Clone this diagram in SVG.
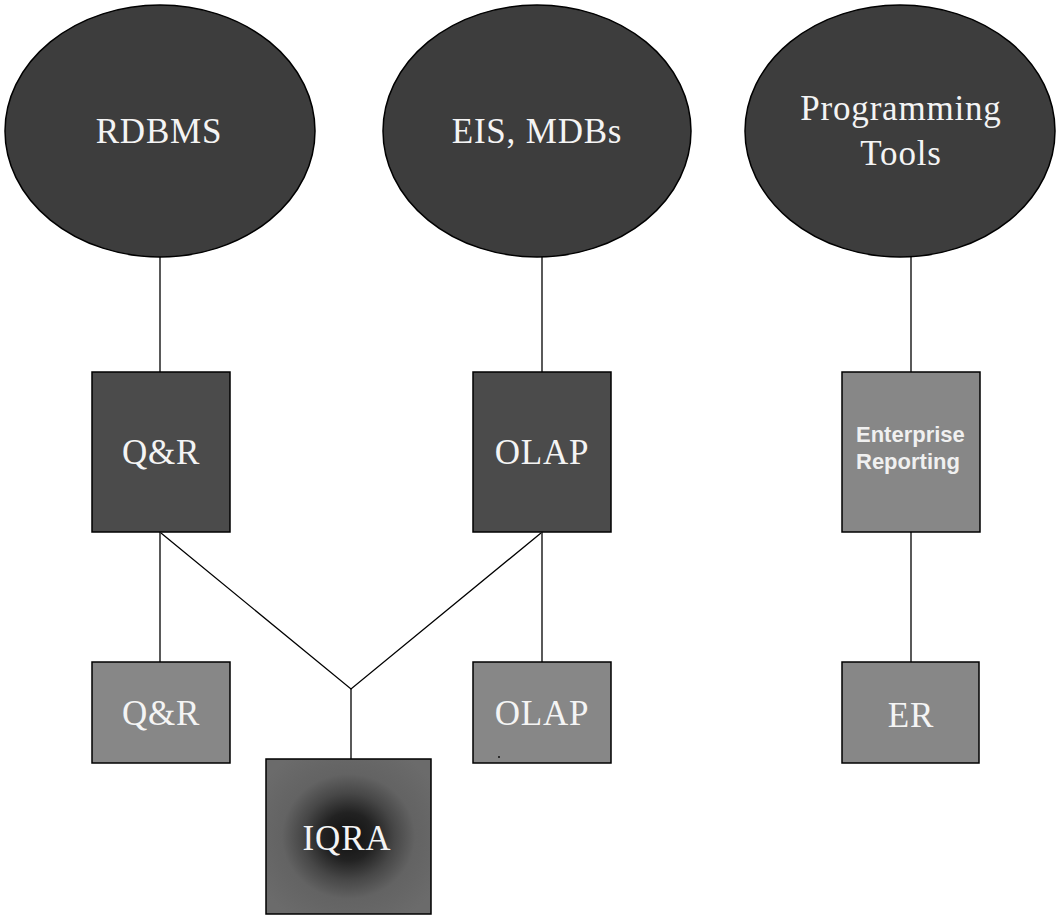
<svg xmlns="http://www.w3.org/2000/svg" width="1058" height="916" viewBox="0 0 1058 916">
<style>
.ell{fill:#3d3d3d;stroke:#000;stroke-width:1.5}
.dk{fill:#4b4b4b;stroke:#000;stroke-width:1.5}
.lt{fill:#878787;stroke:#000;stroke-width:1.5}
.t{font-family:"Liberation Serif","Times New Roman",serif;font-size:35px;letter-spacing:0.8px;fill:#f4f4f4;text-anchor:middle}
.s{font-family:"Liberation Sans",Arial,sans-serif;font-size:22px;font-weight:bold;fill:#f0f0f0}
.c{stroke:#000;stroke-width:1.3;fill:none}
</style>
<defs>
<radialGradient id="iq" cx="0.5" cy="0.5" r="0.62">
<stop offset="0" stop-color="#101010"/>
<stop offset="0.25" stop-color="#222"/>
<stop offset="0.45" stop-color="#474747"/>
<stop offset="0.65" stop-color="#636363"/>
<stop offset="1" stop-color="#6b6b6b"/>
</radialGradient>
</defs>
<rect width="1058" height="916" fill="#fff"/>
<g id="connectors">
<line class="c" x1="160" y1="257" x2="160" y2="372"/>
<line class="c" x1="542" y1="257" x2="542" y2="372"/>
<line class="c" x1="911" y1="257" x2="911" y2="372"/>
<line class="c" x1="160" y1="532" x2="160" y2="662"/>
<line class="c" x1="542" y1="532" x2="542" y2="662"/>
<line class="c" x1="911" y1="532" x2="911" y2="662"/>
<polyline class="c" points="161,533 351,689 541,533"/>
<line class="c" x1="351" y1="689" x2="351" y2="759"/>
</g>
<g id="rdbms">
<ellipse class="ell" cx="160" cy="131" rx="155" ry="126"/>
<text class="t" x="159" y="143">RDBMS</text>
</g>
<g id="eis">
<ellipse class="ell" cx="537" cy="131" rx="154" ry="126"/>
<text class="t" x="537" y="143">EIS, MDBs</text>
</g>
<g id="progtools">
<ellipse class="ell" cx="900" cy="131" rx="155" ry="126"/>
<text class="t" x="901" y="120">Programming</text>
<text class="t" x="901" y="165">Tools</text>
</g>
<g id="qr-top">
<rect class="dk" x="92" y="372" width="138" height="160"/>
<text class="t" x="161" y="464">Q&amp;R</text>
</g>
<g id="olap-top">
<rect class="dk" x="473" y="372" width="138" height="160"/>
<text class="t" x="542" y="464">OLAP</text>
</g>
<g id="enterprise">
<rect class="lt" x="842" y="372" width="138" height="160"/>
<text class="s" x="856" y="442">Enterprise</text>
<text class="s" x="856" y="469">Reporting</text>
</g>
<g id="qr-bottom">
<rect class="lt" x="92" y="662" width="138" height="101"/>
<text class="t" x="161" y="725">Q&amp;R</text>
</g>
<g id="olap-bottom">
<rect class="lt" x="473" y="662" width="138" height="101"/>
<text class="t" x="542" y="725">OLAP</text>
<circle cx="499" cy="757" r="1" fill="#111"/>
</g>
<g id="er">
<rect class="lt" x="842" y="662" width="137" height="101"/>
<text class="t" x="911" y="727">ER</text>
</g>
<g id="iqra">
<rect x="266" y="759" width="165" height="155" fill="url(#iq)" stroke="#000" stroke-width="1.5"/>
<text class="t" x="347" y="850">IQRA</text>
</g>
</svg>
